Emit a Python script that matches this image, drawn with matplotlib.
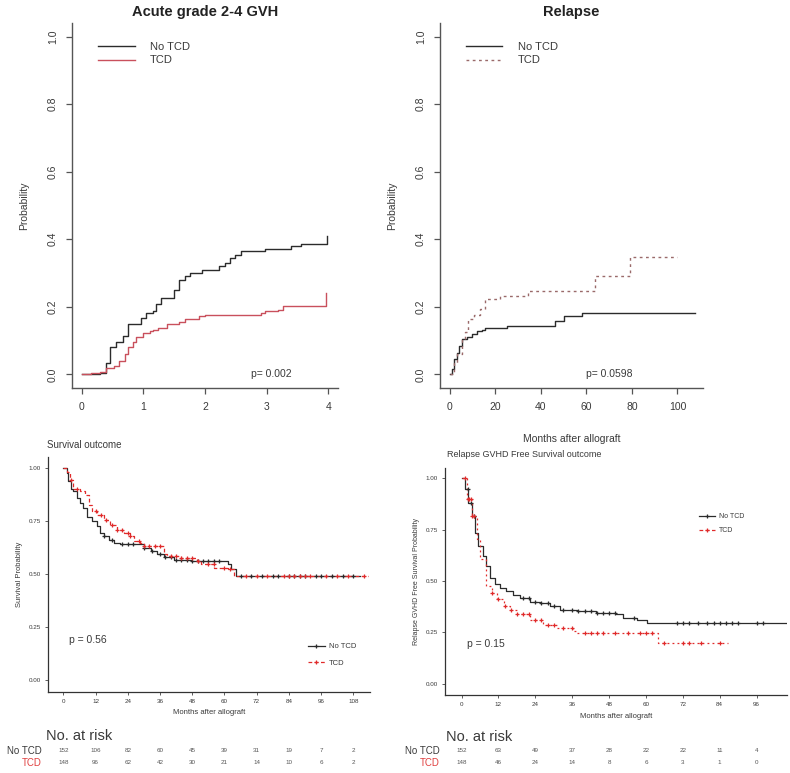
import numpy as np
import matplotlib
matplotlib.use('Agg')
import matplotlib.pyplot as plt
from matplotlib.lines import Line2D
from matplotlib.transforms import blended_transform_factory

plt.rcParams['font.family'] = ['Liberation Sans', 'DejaVu Sans']

# --- Acute grade 2-4 GVH (cumulative incidence, months) ---
gvh_notcd_t = [0, 0.29, 0.40, 0.45, 0.56, 0.67, 0.75, 0.96, 1.04, 1.15, 1.20, 1.28, 1.50, 1.58, 1.68,
               1.76, 1.95, 2.22, 2.33, 2.41, 2.49, 2.59, 2.97, 3.40, 3.56, 3.98, 3.985]
gvh_notcd_p = [0, 0.005, 0.035, 0.08, 0.095, 0.113, 0.148, 0.168, 0.182, 0.187, 0.21, 0.227, 0.25, 0.28,
               0.29, 0.30, 0.31, 0.32, 0.33, 0.345, 0.355, 0.365, 0.37, 0.38, 0.387, 0.39, 0.41]
gvh_tcd_t = [0, 0.15, 0.29, 0.40, 0.53, 0.61, 0.70, 0.75, 0.83, 0.88, 0.99, 1.10, 1.15, 1.23, 1.39, 1.58,
             1.68, 1.90, 2.00, 2.91, 2.97, 3.18, 3.26, 3.96, 3.965]
gvh_tcd_p = [0, 0.004, 0.007, 0.02, 0.025, 0.04, 0.06, 0.08, 0.095, 0.11, 0.124, 0.128, 0.133, 0.138,
             0.148, 0.155, 0.163, 0.173, 0.177, 0.182, 0.187, 0.192, 0.202, 0.202, 0.24]

# --- Relapse (cumulative incidence, months) ---
rel_notcd_t = [0, 1, 2, 3.2, 4, 5.4, 7.6, 9.8, 12, 14.2, 15.6, 25, 46.3, 50, 58, 107.6]
rel_notcd_p = [0, 0.015, 0.045, 0.065, 0.085, 0.105, 0.112, 0.12, 0.13, 0.133, 0.138, 0.143, 0.157,
               0.172, 0.182, 0.182]
rel_tcd_t = [0, 1.75, 3.2, 5.4, 6.9, 8.3, 10.5, 13.4, 15.6, 22.2, 34.6, 63.8, 79.1, 99.9]
rel_tcd_p = [0, 0.035, 0.06, 0.105, 0.125, 0.165, 0.175, 0.195, 0.222, 0.232, 0.248, 0.29, 0.349, 0.349]

# --- Overall survival (KM, months) ---
os_notcd_t = [0, 1.2, 1.9, 2.7, 3.7, 5.0, 6.2, 7.5, 8.7, 10.6, 12.5, 13.7, 15.0, 16.9, 18.7, 21.2, 30.0,
              32.5, 35.0, 37.5, 41.2, 44.9, 47.4, 61.2, 62.4, 64.3, 110.5]
os_notcd_s = [1.0, 0.974, 0.935, 0.90, 0.888, 0.857, 0.833, 0.81, 0.77, 0.748, 0.724, 0.693, 0.678,
              0.662, 0.646, 0.639, 0.623, 0.607, 0.592, 0.579, 0.568, 0.564, 0.561, 0.545, 0.522, 0.491,
              0.491]
os_tcd_t = [0, 1.2, 2.5, 3.7, 6.2, 8.1, 9.4, 10.6, 12.5, 15.0, 17.5, 20.0, 22.5, 25.0, 26.2, 28.7, 30.0,
            37.5, 38.7, 43.7, 49.9, 51.2, 56.2, 61.2, 63.7, 113.6]
os_tcd_s = [1.0, 0.98, 0.94, 0.90, 0.888, 0.872, 0.826, 0.794, 0.779, 0.755, 0.732, 0.709, 0.693, 0.678,
            0.654, 0.646, 0.631, 0.592, 0.585, 0.576, 0.561, 0.545, 0.53, 0.522, 0.491, 0.491]
os_notcd_cens = [15, 18, 22, 24, 26, 30, 33, 36, 38, 40, 42, 44, 46, 48, 50, 52, 54, 56, 58,
                 66, 70, 74, 78, 80, 84, 86, 88, 90, 94, 96, 100, 104, 108]
os_tcd_cens = [3, 5, 12, 14, 16, 18, 20, 22, 24, 25, 28, 30, 32, 34, 36, 40, 42, 44, 46, 48, 50, 54,
               56, 60, 62, 68, 72, 76, 82, 84, 86, 88, 90, 92, 98, 102, 106, 112]

# --- Relapse GVHD free survival (KM, months) ---
rfs_notcd_t = [0, 1.1, 2.2, 3.3, 4.3, 5.4, 7.0, 8.1, 9.2, 10.8, 12.5, 14.6, 16.8, 19.0, 22.2, 25.5,
               28.7, 32.0, 37.4, 43.9, 50.4, 52.6, 57.0, 60.2, 105.7]
rfs_notcd_s = [1.0, 0.946, 0.88, 0.816, 0.735, 0.67, 0.621, 0.573, 0.515, 0.483, 0.467, 0.45, 0.434,
               0.418, 0.40, 0.393, 0.377, 0.361, 0.353, 0.345, 0.337, 0.32, 0.312, 0.296, 0.296]
rfs_tcd_t = [0, 1.6, 3.3, 4.9, 6.0, 8.1, 9.8, 11.4, 13.7, 15.8, 17.9, 22.2, 26.6, 30.9, 36.3, 37.5,
             64.0, 86.8]
rfs_tcd_s = [1.0, 0.898, 0.816, 0.702, 0.605, 0.475, 0.44, 0.41, 0.377, 0.361, 0.337, 0.312, 0.288,
             0.272, 0.255, 0.247, 0.198, 0.198]
rfs_notcd_cens = [2, 3, 4, 20, 22, 24, 26, 28, 30, 33, 36, 38, 40, 42, 44, 46, 48, 50, 56,
                  70, 72, 74, 77, 80, 82, 84, 86, 88, 90, 96, 98]
rfs_tcd_cens = [1, 2, 2.5, 3, 3.5, 4, 10, 12, 14, 16, 18, 20, 22, 24, 26, 28, 30, 33, 36, 40, 42, 44,
                46, 50, 54, 58, 60, 62, 66, 72, 74, 78, 84]

# --- numbers at risk ---
os_risk_times = [0, 12, 24, 36, 48, 60, 72, 84, 96, 108]
os_risk_notcd = [152, 106, 82, 60, 45, 39, 31, 19, 7, 2]
os_risk_tcd = [148, 96, 62, 42, 30, 21, 14, 10, 6, 2]
rfs_risk_times = [0, 12, 24, 36, 48, 60, 72, 84, 96]
rfs_risk_notcd = [152, 63, 49, 37, 28, 22, 22, 11, 4]
rfs_risk_tcd = [148, 46, 24, 14, 8, 6, 3, 1, 0]

W, H = 790, 773
TXT = '#3a3a3a'
RED_GVH = '#c9505c'
RED = '#e02a2a'
BLK = '#2b2b2b'


def box(l, t, r, b):
    return [l / W, 1 - b / H, (r - l) / W, (b - t) / H]


def step_at(t, s, c):
    idx = np.searchsorted(np.array(t), np.array(c), side='right') - 1
    return np.array(s)[idx]


fig = plt.figure(figsize=(W / 100, H / 100), dpi=100)

# ---------- top panels (base R style) ----------
ax1 = fig.add_axes(box(72, 23, 338, 388))
ax2 = fig.add_axes(box(440, 23, 703, 388))
for ax in (ax1, ax2):
    for sp in ('top', 'right'):
        ax.spines[sp].set_visible(False)
    for sp in ('left', 'bottom'):
        ax.spines[sp].set_color('#555555')
        ax.spines[sp].set_linewidth(1.0)
    ax.set_ylim(-0.04, 1.04)
    ax.set_yticks([0, 0.2, 0.4, 0.6, 0.8, 1.0])
    ax.set_yticklabels(['0.0', '0.2', '0.4', '0.6', '0.8', '1.0'], rotation=90, va='center')
    ax.tick_params(colors='#555555', labelcolor=TXT, labelsize=7.5, length=4, width=0.9, pad=6)
    ax.set_ylabel('Probability', fontsize=7.5, color=TXT, labelpad=14)

ax1.step(gvh_notcd_t, gvh_notcd_p, where='post', color=BLK, lw=1.0, label='No TCD')
ax1.step(gvh_tcd_t, gvh_tcd_p, where='post', color=RED_GVH, lw=1.0, label='TCD')
ax1.set_xlim(-0.16, 4.16)
ax1.set_xticks([0, 1, 2, 3, 4])
ax1.set_title('Acute grade 2-4 GVH', fontsize=10.5, fontweight='bold', color='#222222', pad=5)
ax1.text(2.75, 0.0, 'p= 0.002', fontsize=7.5, color=TXT, ha='left', va='center')
ax1.legend(loc='upper left', bbox_to_anchor=(0.06, 0.975), frameon=False, fontsize=8,
           handlelength=3.3, handletextpad=1.4, labelspacing=0.3, labelcolor=TXT)

ax2.step(rel_notcd_t, rel_notcd_p, where='post', color=BLK, lw=1.0, label='No TCD')
ax2.step(rel_tcd_t, rel_tcd_p, where='post', color='#9a6a6a', lw=1.0, ls=(0, (2, 2.5)), label='TCD')
ax2.set_xlim(-4.2, 111.2)
ax2.set_xticks([0, 20, 40, 60, 80, 100])
ax2.set_title('Relapse', fontsize=10.5, fontweight='bold', color='#222222', pad=5)
ax2.set_xlabel('Months after allograft', fontsize=7.5, color=TXT, labelpad=16)
ax2.text(60, 0.0, 'p= 0.0598', fontsize=7.5, color=TXT, ha='left', va='center')
ax2.legend(loc='upper left', bbox_to_anchor=(0.06, 0.975), frameon=False, fontsize=8,
           handlelength=3.3, handletextpad=1.4, labelspacing=0.3, labelcolor=TXT)

# ---------- bottom panels (survminer style) ----------
ax3 = fig.add_axes(box(48, 457, 370, 692))
ax4 = fig.add_axes(box(445, 468, 787, 695))
for ax in (ax3, ax4):
    for sp in ('top', 'right'):
        ax.spines[sp].set_visible(False)
    for sp in ('left', 'bottom'):
        ax.spines[sp].set_color('#333333')
        ax.spines[sp].set_linewidth(0.9)
    ax.set_ylim(-0.055, 1.05)
    ax.set_yticks([0, 0.25, 0.5, 0.75, 1.0])
    ax.set_yticklabels(['0.00', '0.25', '0.50', '0.75', '1.00'])
    ax.tick_params(colors='#444444', labelcolor=TXT, labelsize=4.5, length=2, width=0.6, pad=3)

ax3.step(os_notcd_t, os_notcd_s, where='post', color=BLK, lw=0.9)
ax3.step(os_tcd_t, os_tcd_s, where='post', color=RED, lw=0.9, ls=(0, (3, 2)))
ax3.plot(os_notcd_cens, step_at(os_notcd_t, os_notcd_s, os_notcd_cens), ls='none', marker='+',
         ms=3, mew=0.9, color=BLK)
ax3.plot(os_tcd_cens, step_at(os_tcd_t, os_tcd_s, os_tcd_cens), ls='none', marker='+',
         ms=3, mew=0.9, color=RED)
ax3.set_xlim(-5.7, 114.2)
ax3.set_xticks(os_risk_times)
ax3.set_xlabel('Months after allograft', fontsize=5.5, color=TXT, labelpad=4)
ax3.set_ylabel('Survival Probability', fontsize=5.5, color=TXT, labelpad=4)
ax3.text(2, 0.19, 'p = 0.56', fontsize=7.5, color=TXT, ha='left', va='center')
fig.text(47 / W, 1 - 445 / H, 'Survival outcome', fontsize=7, color=TXT, ha='left', va='center')

ax4.step(rfs_notcd_t, rfs_notcd_s, where='post', color=BLK, lw=0.9)
ax4.step(rfs_tcd_t, rfs_tcd_s, where='post', color=RED, lw=0.9, ls=(0, (1.5, 2.5)))
ax4.plot(rfs_notcd_cens, step_at(rfs_notcd_t, rfs_notcd_s, rfs_notcd_cens), ls='none', marker='+',
         ms=3, mew=0.9, color=BLK)
ax4.plot(rfs_tcd_cens, step_at(rfs_tcd_t, rfs_tcd_s, rfs_tcd_cens), ls='none', marker='+',
         ms=3, mew=0.9, color=RED)
ax4.set_xlim(-5.4, 105.9)
ax4.set_xticks(rfs_risk_times)
ax4.set_xlabel('Months after allograft', fontsize=5.5, color=TXT, labelpad=4)
ax4.set_ylabel('Relapse GVHD Free Survival Probability', fontsize=5, color=TXT, labelpad=4)
ax4.text(1.7, 0.195, 'p = 0.15', fontsize=7.5, color=TXT, ha='left', va='center')
fig.text(447 / W, 1 - 455 / H, 'Relapse GVHD Free Survival outcome', fontsize=6.5, color=TXT,
         ha='left', va='center')

km_handles = [Line2D([], [], color=BLK, lw=0.9, marker='+', ms=3, mew=0.9),
              Line2D([], [], color=RED, lw=0.9, ls=(0, (3, 2)), marker='+', ms=3, mew=0.9)]
ax3.legend(km_handles, ['No TCD', 'TCD'], loc='upper left', bbox_to_anchor=(301 / W, 1 - 636 / H),
           bbox_transform=fig.transFigure, frameon=False, fontsize=5.5, handlelength=2.2,
           handletextpad=0.6, labelspacing=1.2, labelcolor=TXT)
ax4.legend(km_handles, ['No TCD', 'TCD'], loc='upper left', bbox_to_anchor=(693 / W, 1 - 507 / H),
           bbox_transform=fig.transFigure, frameon=False, fontsize=5, handlelength=2.2,
           handletextpad=0.6, labelspacing=1.0, labelcolor=TXT)

# ---------- risk tables ----------
ROW1, ROW2 = 751, 763


def risk_table(ax, times, n1, n2, head_x, lab_x, y_head):
    tr = blended_transform_factory(ax.transData, fig.transFigure)
    fig.text(head_x / W, 1 - y_head / H, 'No. at risk', fontsize=10.5, color=TXT, ha='left', va='center')
    fig.text(lab_x / W, 1 - ROW1 / H, 'No TCD', fontsize=7, color=TXT, ha='right', va='center')
    fig.text(lab_x / W, 1 - ROW2 / H, 'TCD', fontsize=7, color='#e04040', ha='right', va='center')
    for t, a, b in zip(times, n1, n2):
        ax.text(t, 1 - ROW1 / H, str(a), transform=tr, fontsize=4.5, color='#555555',
                ha='center', va='center')
        ax.text(t, 1 - ROW2 / H, str(b), transform=tr, fontsize=4.5, color='#555555',
                ha='center', va='center')


risk_table(ax3, os_risk_times, os_risk_notcd, os_risk_tcd, 46, 42, 736)
risk_table(ax4, rfs_risk_times, rfs_risk_notcd, rfs_risk_tcd, 446, 440, 737)

fig.savefig('out.png', dpi=100)
